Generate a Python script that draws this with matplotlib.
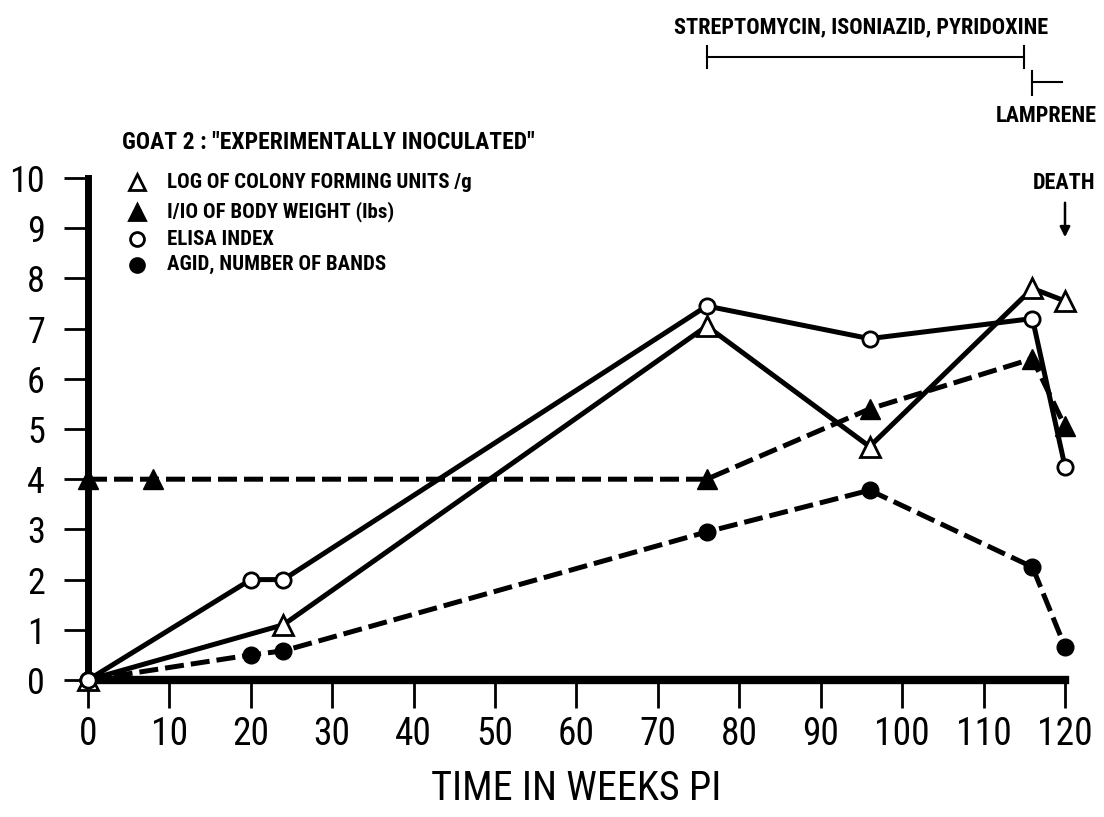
import matplotlib
matplotlib.use("Agg")
import matplotlib.pyplot as plt
from matplotlib.transforms import blended_transform_factory

# --- data ---
weeks_cfu = [0, 24, 76, 96, 116, 120]
log_cfu = [0, 1.1, 7.05, 4.65, 7.8, 7.55]

weeks_weight = [0, 8, 76, 96, 116, 120]
weight_tenth = [4, 4, 4, 5.4, 6.4, 5.05]

weeks_elisa = [0, 20, 24, 76, 96, 116, 120]
elisa_index = [0, 2, 2, 7.45, 6.8, 7.2, 4.25]

weeks_agid = [0, 20, 24, 76, 96, 116, 120]
agid_bands = [0, 0.5, 0.58, 2.95, 3.78, 2.25, 0.66]

x_ticks = list(range(0, 121, 10))
y_ticks = list(range(0, 11))

legend_labels = ["LOG OF COLONY FORMING UNITS /g",
                 "I/IO OF BODY WEIGHT (lbs)",
                 "ELISA INDEX",
                 "AGID, NUMBER OF BANDS"]
title_text = 'GOAT 2 : "EXPERIMENTALLY INOCULATED"'
drug_text = "STREPTOMYCIN, ISONIAZID, PYRIDOXINE"
drug_span = (76, 115)
lamprene_span = (116, 119.6)

# narrow lettering, falls back to DejaVu Sans
plt.rcParams["font.family"] = ["Roboto Condensed", "Liberation Sans Narrow", "DejaVu Sans"]

fig = plt.figure(figsize=(11.04, 8.17), dpi=100)
ax = fig.add_axes([88 / 1104, 137 / 817, 977 / 1104, 502 / 817])

lw = 3.6
ms = 11
# solid series, open markers
ax.plot(weeks_elisa, elisa_index, color="black", lw=lw, marker="o", ms=ms,
        mfc="white", mec="black", mew=2, clip_on=False, zorder=4)
ax.plot(weeks_cfu, log_cfu, color="black", lw=lw, marker="^", ms=ms + 3,
        mfc="white", mec="black", mew=2, clip_on=False, zorder=4)
# dashed series, filled markers
ax.plot(weeks_weight, weight_tenth, color="black", lw=lw, ls=(0, (3.8, 1.4)),
        marker="^", ms=ms + 3, mfc="black", mec="black", clip_on=False, zorder=3)
ax.plot(weeks_agid, agid_bands, color="black", lw=lw, ls=(0, (3.8, 1.4)),
        marker="o", ms=ms + 1, mfc="black", mec="black", clip_on=False, zorder=3)
# origin marker on top
ax.plot([weeks_elisa[0]], [elisa_index[0]], marker="o", ms=ms, mfc="white",
        mec="black", mew=2, ls="none", clip_on=False, zorder=6)

ax.set_xlim(0, 120)
ax.set_ylim(0, 10)
ax.set_xticks(x_ticks)
ax.set_yticks(y_ticks)
for s in ["top", "right"]:
    ax.spines[s].set_visible(False)
ax.spines["left"].set_linewidth(5)
ax.spines["bottom"].set_linewidth(6)
ax.tick_params(axis="y", direction="out", length=17, width=2, pad=14, labelsize=26)
ax.tick_params(axis="x", direction="out", length=20, width=2, pad=6, labelsize=27)
ax.set_xlabel("TIME IN WEEKS PI", fontsize=29)
ax.xaxis.set_label_coords(0.5, -0.178)

# hand-made legend, no frame
markers = [("^", "white"), ("^", "black"), ("o", "white"), ("o", "black")]
rows = [0.992, 0.932, 0.878, 0.827]
for (m, fc), yy, lab in zip(markers, rows, legend_labels):
    ax.plot([0.050], [yy], marker=m, ms=12 if m == "^" else 10, mfc=fc, mec="black",
            mew=2, ls="none", transform=ax.transAxes, clip_on=False)
    ax.text(0.081, yy, lab, transform=ax.transAxes, fontsize=15, fontweight="bold",
            va="center", ha="left")
ax.text(0.035, 1.070, title_text, transform=ax.transAxes, fontsize=17,
        fontweight="bold", va="center", ha="left")

# treatment brackets above the plot
tr = blended_transform_factory(ax.transData, fig.transFigure)
y_br = 1 - 57 / 817
ax.plot(drug_span, [y_br, y_br], color="black", lw=1.5, transform=tr, clip_on=False)
for xx in drug_span:
    ax.plot([xx, xx], [y_br - 0.013, y_br + 0.013], color="black", lw=1.5,
            transform=tr, clip_on=False)
ax.text(95, 1 - 27 / 817, drug_text, transform=tr, fontsize=16,
        fontweight="bold", ha="center", va="center")
y_lp = 1 - 82 / 817
ax.plot(lamprene_span, [y_lp, y_lp], color="black", lw=1.5, transform=tr, clip_on=False)
ax.plot([lamprene_span[0]] * 2, [y_lp - 0.016, y_lp + 0.014], color="black", lw=1.5,
        transform=tr, clip_on=False)
ax.text(117.7, 1 - 116 / 817, "LAMPRENE", transform=tr, fontsize=16,
        fontweight="bold", ha="center", va="center")
ax.text(119.9, 1 - 183 / 817, "DEATH", transform=tr, fontsize=16,
        fontweight="bold", ha="center", va="center")
ax.annotate("", xy=(120, 1 - 240 / 817), xytext=(120, 1 - 200 / 817),
            xycoords=tr, textcoords=tr,
            arrowprops=dict(arrowstyle="-|>", color="black", lw=1.8, mutation_scale=15))

fig.savefig("out.png", dpi=100)
